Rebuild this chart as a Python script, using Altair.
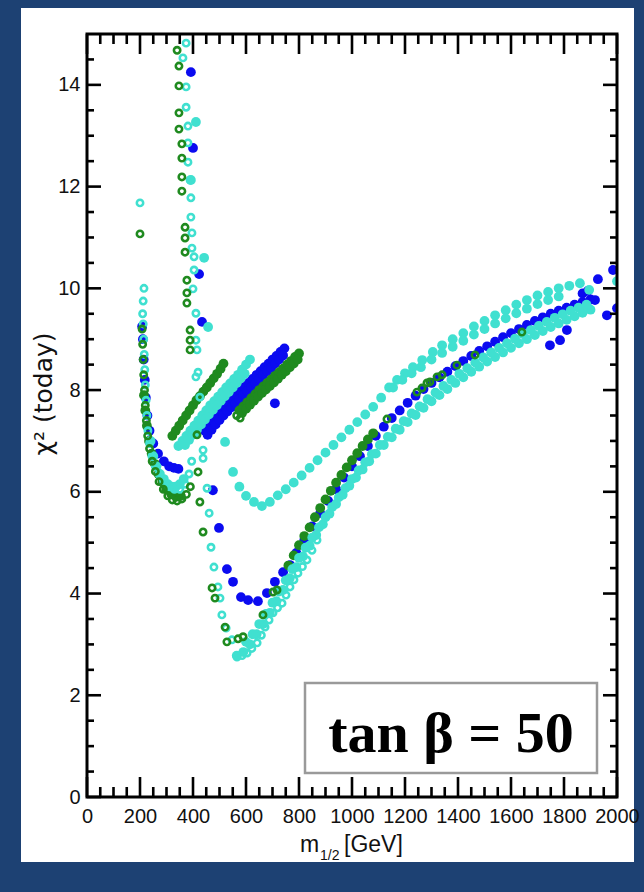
import altair as alt
import pandas as pd

# ---------------- data ----------------
# blue filled
blue_x = [392, 400, 423, 434,
          208, 211, 214, 218, 222, 228, 236, 250, 268, 290, 310, 328, 345,
          445, 460, 475, 490, 505, 520, 535, 550, 565, 580, 595, 610, 625, 640, 655, 670, 685, 700, 715, 730, 745,
          455, 470, 485, 500, 515, 530, 545, 560, 575, 590, 605, 620, 635, 650, 665, 680, 695, 710, 725, 740,
          709,
          475, 498, 528, 551, 581, 608, 645, 679, 709, 740, 766,
          790, 820, 850, 880, 910, 940, 970, 1000, 1030, 1060, 1090, 1120, 1150, 1180, 1210, 1240, 1270, 1300,
          1330, 1360, 1390, 1420, 1450, 1480, 1510, 1540, 1570, 1600, 1630, 1660, 1690, 1720, 1750, 1780, 1810,
          1840, 1870, 1900,
          1747, 1785, 1811, 1917, 1928, 1962, 1985, 2000, 1870, 1890]
blue_y = [14.25, 12.76, 10.28, 9.34,
          9.25, 9.0, 8.6, 8.2, 7.85, 7.5, 7.2, 6.95, 6.75, 6.6, 6.5, 6.47, 6.45,
          7.2, 7.3, 7.4, 7.5, 7.58, 7.66, 7.74, 7.82, 7.9, 7.98, 8.06, 8.14, 8.22, 8.3, 8.37, 8.45, 8.52, 8.6, 8.67, 8.75, 8.82,
          7.12, 7.22, 7.32, 7.41, 7.5, 7.58, 7.66, 7.74, 7.82, 7.9, 7.98, 8.06, 8.14, 8.22, 8.3, 8.37, 8.44, 8.52, 8.6, 8.68,
          7.74,
          6.03, 5.29, 4.48, 4.23, 3.93, 3.87, 3.85, 4.01, 4.23, 4.42, 4.56,
          4.8, 5.05, 5.32, 5.58, 5.82, 6.05, 6.28, 6.5, 6.7, 6.9, 7.1, 7.28, 7.45, 7.6, 7.75, 7.89, 8.02, 8.14,
          8.25, 8.36, 8.47, 8.57, 8.67, 8.77, 8.86, 8.95, 9.04, 9.12, 9.2, 9.28, 9.36, 9.43, 9.5, 9.56, 9.62,
          9.68, 9.73, 9.78,
          8.88, 8.98, 9.18, 9.77, 10.18, 9.47, 10.36, 9.61, 9.9, 9.95]

# green filled
green_x = [215, 220, 226, 234, 244, 256, 270, 285, 300, 318, 336, 354,
           322, 335, 348, 361, 374, 387, 400, 413, 426, 439, 452, 465, 478, 491, 504, 515,
           575, 590, 605, 620, 635, 650, 665, 680, 695, 710, 725, 740, 755, 770, 785, 800,
           585, 600, 615, 630, 645, 660, 675, 690, 705, 720, 735, 750, 765, 780, 795,
           760, 780, 800, 820, 840, 860, 880, 900, 920, 940, 960, 980, 1000, 1020, 1040, 1060, 1080]
green_y = [7.9, 7.6, 7.3, 7.0, 6.75, 6.55, 6.35, 6.2, 6.05, 5.95, 5.9, 5.92,
           7.1, 7.2, 7.3, 7.4, 7.5, 7.6, 7.7, 7.8, 7.88, 7.97, 8.05, 8.14, 8.23, 8.32, 8.42, 8.52,
           7.6, 7.68, 7.76, 7.84, 7.92, 8.0, 8.07, 8.14, 8.21, 8.28, 8.35, 8.42, 8.5, 8.57, 8.65, 8.72,
           7.55, 7.63, 7.71, 7.79, 7.87, 7.94, 8.01, 8.08, 8.15, 8.22, 8.3, 8.37, 8.45, 8.52, 8.6,
           4.55, 4.75, 4.95, 5.13, 5.3, 5.5, 5.68, 5.85, 6.02, 6.18, 6.33, 6.48, 6.62, 6.76, 6.9, 7.03, 7.15]

# turquoise filled
cyan_x = [411, 392, 442, 457,
          521, 551, 575, 600, 630, 660, 690, 720, 750, 780, 810, 840, 870, 900, 930, 960, 990, 1020, 1050, 1080,
          1110, 1140, 1170, 1200, 1230, 1265, 1305, 1340, 1380, 1420, 1460, 1500, 1540, 1580, 1620, 1660, 1700,
          1740, 1780, 1820, 1860, 1895, 2000,
          1155, 1190, 1225, 1260, 1300, 1340, 1380, 1420, 1460, 1500, 1540, 1580, 1620, 1660, 1700, 1740, 1780,
          345, 360, 375, 390, 405, 420, 435, 450, 465, 480, 495, 510, 525, 540, 555, 570, 585, 600, 615,
          370, 385, 400, 415, 430, 445, 460, 475, 490, 505, 520, 535, 550, 565, 580, 595,
          240, 250, 262, 275, 290, 305, 320, 335, 350, 365,
          565, 590, 615, 640, 665, 690, 715, 740, 765, 790, 815, 840, 865, 890, 915, 940, 965, 990, 1015, 1040,
          1065, 1090, 1120, 1150, 1180, 1210, 1240, 1270, 1300, 1330, 1360, 1390, 1420, 1450, 1480, 1510, 1540,
          1570, 1600, 1630, 1660, 1690, 1720, 1750, 1780, 1810, 1840, 1870, 1900,
          600, 625, 650, 675, 700, 725, 750, 775, 800, 825, 850, 875, 900, 925, 950, 975, 1000, 1025, 1050, 1075,
          1105, 1135, 1165, 1195, 1225, 1255, 1285, 1315, 1345, 1375, 1405, 1435, 1465, 1495, 1525, 1555, 1585,
          1615, 1645, 1675, 1705, 1735, 1765, 1795, 1825, 1855, 1885]
cyan_y = [13.27, 12.13, 10.60, 9.24,
          6.98, 6.39, 6.1, 5.92, 5.80, 5.72, 5.80, 5.93, 6.05, 6.18, 6.32, 6.47, 6.62, 6.77, 6.92, 7.07, 7.22, 7.37, 7.52, 7.67,
          7.85, 8.05, 8.2, 8.33, 8.45, 8.59, 8.75, 8.88, 9.0, 9.12, 9.25, 9.36, 9.47, 9.57, 9.68, 9.77, 9.86,
          9.93, 10.0, 10.05, 10.1, 9.97, 10.14,
          8.05, 8.2, 8.33, 8.45, 8.6, 8.73, 8.85, 8.97, 9.09, 9.2, 9.31, 9.41, 9.51, 9.6, 9.69, 9.77, 9.84,
          6.9, 7.0, 7.1, 7.2, 7.3, 7.4, 7.5, 7.6, 7.7, 7.78, 7.87, 7.96, 8.05, 8.13, 8.22, 8.3, 8.4, 8.5, 8.6,
          6.92, 7.02, 7.12, 7.22, 7.32, 7.42, 7.52, 7.61, 7.7, 7.79, 7.88, 7.96, 8.05, 8.14, 8.23, 8.32,
          7.0, 6.7, 6.5, 6.35, 6.25, 6.15, 6.1, 6.1, 6.15, 6.25,
          2.78, 2.85, 3.0, 3.2, 3.4, 3.62, 3.85, 4.07, 4.3, 4.52, 4.73, 4.94, 5.15, 5.36, 5.57, 5.76, 5.94, 6.12, 6.28, 6.44,
          6.6, 6.75, 6.92, 7.07, 7.22, 7.37, 7.51, 7.65, 7.78, 7.9, 8.02, 8.14, 8.25, 8.36, 8.46, 8.56, 8.65,
          8.74, 8.83, 8.92, 9.0, 9.08, 9.16, 9.24, 9.31, 9.38, 9.45, 9.52, 9.58,
          3.05, 3.2, 3.4, 3.6, 3.82, 4.04, 4.26, 4.48, 4.7, 4.9, 5.1, 5.3, 5.5, 5.7, 5.89, 6.07, 6.25, 6.42, 6.58, 6.74,
          6.92, 7.08, 7.24, 7.39, 7.54, 7.68, 7.82, 7.95, 8.08, 8.2, 8.32, 8.43, 8.54, 8.64, 8.74, 8.83, 8.92,
          9.01, 9.1, 9.18, 9.26, 9.34, 9.42, 9.49, 9.56, 9.62, 9.68]

# turquoise open
cyano_x = [200, 215, 212, 210, 212, 214, 216, 218, 220, 223, 226, 230, 236, 245, 258, 272, 290, 310, 330, 350, 370, 385, 395,
           374, 362, 374, 374, 381, 381, 381, 389, 392, 392, 396, 396, 404, 404, 400, 411, 411, 415, 419, 426, 411, 411, 438, 438,
           453, 461, 468, 479, 494, 502, 509, 525, 547, 566,
           585, 604, 622, 642, 658, 672, 687, 702, 719, 736, 751, 766, 781, 796, 813, 830, 849, 868]
cyano_y = [11.68, 10.0, 9.75, 9.5, 9.3, 9.0, 8.7, 8.4, 8.1, 7.8, 7.5, 7.2, 6.95, 6.7, 6.5, 6.35, 6.2, 6.1, 6.05, 6.05, 6.15, 6.35, 6.6,
           14.82, 14.53, 13.96, 13.56, 13.19, 12.86, 12.48, 12.13, 11.78, 11.40, 11.09, 10.79, 10.62, 10.36, 9.99, 9.51, 8.98, 8.79, 8.35, 7.86, 8.26, 7.16, 6.82, 6.66,
           6.07, 5.58, 4.91, 4.52, 4.13, 3.91, 3.58, 3.32, 3.09, 2.75,
           2.78, 2.83, 2.92, 3.03, 3.18, 3.34, 3.48, 3.62, 3.72, 3.81, 3.97, 4.13, 4.27, 4.4, 4.53, 4.66, 4.85, 5.05]

# green open
greeno_x = [200, 208, 210, 212, 214, 217, 220, 224, 229, 236, 246, 258, 272, 288, 305, 322, 340, 358, 375, 390,
            340, 347, 347, 347, 347, 358, 358, 358, 358, 370, 370, 370, 377, 377, 377, 389, 389, 389,
            415, 419, 426, 438, 472, 483, 521, 528, 570, 589, 664, 702, 717,
            565, 578,
            1132, 1245, 1264, 1283, 1294, 1321, 1340, 1396, 1464, 1641]
greeno_y = [11.07, 9.2, 8.9, 8.6, 8.3, 8.0, 7.7, 7.4, 7.1, 6.85, 6.6, 6.4, 6.2, 6.05, 5.92, 5.84, 5.82, 5.86, 5.95, 6.1,
            14.68, 14.37, 13.98, 13.45, 13.13, 12.84, 12.56, 12.19, 11.91, 11.20, 10.99, 10.71, 10.16, 9.91, 9.71, 9.18, 8.98, 8.79,
            7.12, 6.39, 5.80, 5.21, 4.11, 3.91, 3.34, 3.05, 3.11, 3.15, 3.58, 4.03, 4.07,
            7.5, 7.45,
            7.43, 7.96, 8.04, 8.14, 8.16, 8.26, 8.30, 8.49, 8.69, 9.14]

x_tick_labels = [0, 200, 400, 600, 800, 1000, 1200, 1400, 1600, 1800, 2000]
y_tick_labels = [0, 2, 4, 6, 8, 10, 12, 14]
y_title = "χ² (today)"
x_title_main = "m"
x_title_sub = "1/2"
x_title_unit = "[GeV]"
box_text = "tan β = 50"

# ---------------- chart ----------------
W, H = 530, 763
LABEL_FONT = "Liberation Sans Narrow, Arial Narrow, Liberation Sans, Arial"

xscale = alt.Scale(domain=[0, 2000], nice=False, zero=False)
yscale = alt.Scale(domain=[0, 15], nice=False, zero=False)
xaxis = alt.Axis(values=x_tick_labels, format="d", title=None, ticks=False, tickSize=0, domain=False, grid=False,
                 labelFont=LABEL_FONT, labelFontSize=20, labelColor="#111111", labelPadding=9,
                 labelFlush=False, zindex=1)
yaxis = alt.Axis(values=y_tick_labels, format="d", title=None, ticks=False, tickSize=0, domain=False, grid=False,
                 labelFont=LABEL_FONT, labelFontSize=20, labelColor="#111111", labelPadding=7,
                 labelFlush=False, zindex=1)
X = alt.X("m:Q", scale=xscale, axis=xaxis)
Y = alt.Y("chi2:Q", scale=yscale, axis=yaxis)


def pts(xs, ys):
    return pd.DataFrame({"m": xs, "chi2": ys})


one = pd.DataFrame({"k": [0]})

panel = alt.Chart(one).mark_rect(color="white", clip=False).encode(
    x=alt.value(-66), x2=alt.value(547), y=alt.value(-26), y2=alt.value(828))

FS = 96
OS = 40
blue = alt.Chart(pts(blue_x, blue_y)).mark_circle(size=FS, color="#0b0bf0", opacity=1, clip=True).encode(x=X, y=Y)
green = alt.Chart(pts(green_x, green_y)).mark_circle(size=FS, color="#1f8a1f", opacity=1, clip=True).encode(x=X, y=Y)
cyan = alt.Chart(pts(cyan_x, cyan_y)).mark_circle(size=FS, color="#40e0d0", opacity=1, clip=True).encode(x=X, y=Y)
cyano = alt.Chart(pts(cyano_x, cyano_y)).mark_point(shape="circle", filled=False, size=OS, strokeWidth=2.6,
                                                    color="#40e0d0", opacity=1, clip=True).encode(x=X, y=Y)
greeno = alt.Chart(pts(greeno_x, greeno_y)).mark_point(shape="circle", filled=False, size=OS, strokeWidth=2.6,
                                                       color="#1f8a1f", opacity=1, clip=True).encode(x=X, y=Y)

# inset label box
box = alt.Chart(one).mark_rect(fill="white", stroke="#9a9a9a", strokeWidth=2.5).encode(
    x=alt.value(218), x2=alt.value(510), y=alt.value(649), y2=alt.value(739))
box_lbl = alt.Chart(pd.DataFrame({"t": [box_text]})).mark_text(
    font="Liberation Serif, Times New Roman, serif", fontWeight="bold", fontSize=58, color="black",
    align="center", baseline="alphabetic").encode(text="t:N", x=alt.value(364), y=alt.value(718))

# frame
frame = alt.Chart(one).mark_rect(fillOpacity=0, stroke="black", strokeWidth=3).encode(
    x=alt.value(0), x2=alt.value(W), y=alt.value(0), y2=alt.value(H))

# ticks (inward)
x_major = pd.DataFrame({"m": x_tick_labels})
x_minor = pd.DataFrame({"m": [v for v in range(50, 2000, 50) if v % 200 != 0]})
y_major = pd.DataFrame({"chi2": y_tick_labels})
y_minor = pd.DataFrame({"chi2": [v / 2 for v in range(1, 30) if v % 4 != 0]})

tick_layers = []
for df, ln in ((x_major, 20), (x_minor, 10)):
    tick_layers.append(alt.Chart(df).mark_rule(color="black", strokeWidth=2.6).encode(
        x=X, y=alt.value(H), y2=alt.value(H - ln)))
    tick_layers.append(alt.Chart(df).mark_rule(color="black", strokeWidth=2.6).encode(
        x=X, y=alt.value(0), y2=alt.value(ln)))
for df, ln in ((y_major, 14), (y_minor, 7)):
    tick_layers.append(alt.Chart(df).mark_rule(color="black", strokeWidth=2.6).encode(
        y=Y, x=alt.value(0), x2=alt.value(ln)))
    tick_layers.append(alt.Chart(df).mark_rule(color="black", strokeWidth=2.6).encode(
        y=Y, x=alt.value(W), x2=alt.value(W - ln)))

# axis titles
ytitle = alt.Chart(pd.DataFrame({"t": [y_title]})).mark_text(
    font="DejaVu Sans", fontSize=25, color="#111111", angle=270, align="center", baseline="middle").encode(
    text="t:N", x=alt.value(-43), y=alt.value(360))
xt_main = alt.Chart(pd.DataFrame({"t": [x_title_main]})).mark_text(
    font="Liberation Sans, Arial", fontSize=23, color="#111111", align="left", baseline="alphabetic").encode(
    text="t:N", x=alt.value(213), y=alt.value(818))
xt_sub = alt.Chart(pd.DataFrame({"t": [x_title_sub]})).mark_text(
    font="Liberation Sans, Arial", fontSize=14, color="#111111", align="left", baseline="alphabetic").encode(
    text="t:N", x=alt.value(233), y=alt.value(826))
xt_unit = alt.Chart(pd.DataFrame({"t": [x_title_unit]})).mark_text(
    font="Liberation Sans, Arial", fontSize=23, color="#111111", align="left", baseline="alphabetic").encode(
    text="t:N", x=alt.value(257), y=alt.value(818))

chart = alt.layer(
    panel, blue, green, cyan, cyano, greeno, box, box_lbl, frame, *tick_layers, ytitle, xt_main, xt_sub, xt_unit
).properties(
    width=W, height=H,
    padding={"left": 87, "top": 34, "right": 27, "bottom": 95},
    autosize=alt.AutoSizeParams(type="none"),
    background="#1d4173",
).configure_view(stroke=None)

chart.save("out.html", embed_options={"renderer": "svg", "actions": False})
